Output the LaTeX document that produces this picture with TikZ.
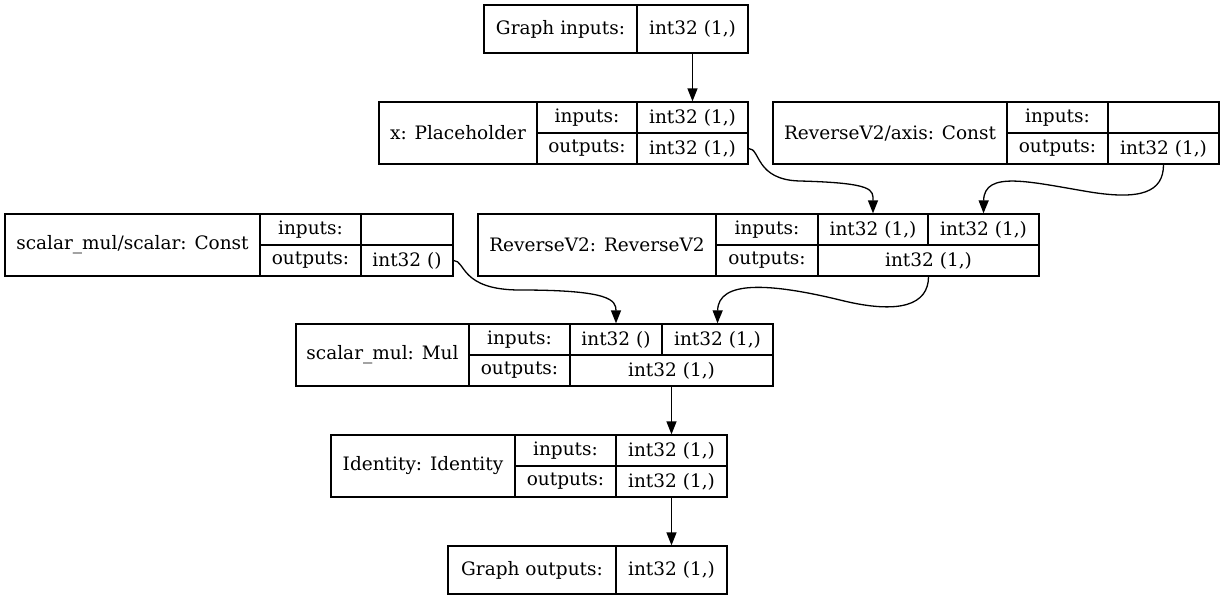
\documentclass[tikz,border=0pt]{standalone}
\usepackage{fontspec}
\setmainfont{DejaVu Serif}
\usetikzlibrary{arrows.meta}

\begin{document}
\begin{tikzpicture}[
  x=1pt, y=-1pt,
  cell/.style={draw, line width=1.3pt, inner sep=0pt, font=\fontsize{18.5}{22}\selectfont, minimum height=31pt},
  tall/.style={cell, minimum height=62pt},
  flat/.style={cell, minimum height=48pt},
  arr/.style={-{Triangle[length=13pt, width=10pt]}, line width=1.3pt}]
\useasboundingbox (0,0) rectangle (1225,600);
\node[flat, minimum width=153pt] (gin) at (560.5,29) {Graph inputs:};
\node[flat, minimum width=111pt] (ginv) at (692.5,29) {int32 (1,)};
\node[tall, minimum width=158pt] (xl) at (458,133) {x: Placeholder};
\node[cell, minimum width=100pt] (xin) at (587,117.5) {inputs:};
\node[cell, minimum width=100pt] (xout) at (587,148.5) {outputs:};
\node[cell, minimum width=111pt] (xinv) at (692.5,117.5) {int32 (1,)};
\node[cell, minimum width=111pt] (xoutv) at (692.5,148.5) {int32 (1,)};
\node[tall, minimum width=234pt] (al) at (890,133) {ReverseV2/axis: Const};
\node[cell, minimum width=101pt] (ain) at (1057.5,117.5) {inputs:};
\node[cell, minimum width=101pt] (aout) at (1057.5,148.5) {outputs:};
\node[cell, minimum width=111pt] (ainv) at (1163.5,117.5) {};
\node[cell, minimum width=111pt] (aoutv) at (1163.5,148.5) {int32 (1,)};
\node[tall, minimum width=255pt] (sl) at (132.5,245) {scalar\_mul/scalar: Const};
\node[cell, minimum width=101pt] (sin) at (310.5,229.5) {inputs:};
\node[cell, minimum width=101pt] (sout) at (310.5,260.5) {outputs:};
\node[cell, minimum width=92pt] (sinv) at (407,229.5) {};
\node[cell, minimum width=92pt] (soutv) at (407,260.5) {int32 ()};
\node[tall, minimum width=238pt] (rl) at (597,245) {ReverseV2: ReverseV2};
\node[cell, minimum width=102pt] (rin) at (767,229.5) {inputs:};
\node[cell, minimum width=102pt] (rout) at (767,260.5) {outputs:};
\node[cell, minimum width=110pt] (rinva) at (873,229.5) {int32 (1,)};
\node[cell, minimum width=111pt] (rinvb) at (983.5,229.5) {int32 (1,)};
\node[cell, minimum width=221pt] (routv) at (928.5,260.5) {int32 (1,)};
\node[tall, minimum width=173pt] (ml) at (382.5,355) {scalar\_mul: Mul};
\node[cell, minimum width=101pt] (min) at (519.5,339.5) {inputs:};
\node[cell, minimum width=101pt] (mout) at (519.5,370.5) {outputs:};
\node[cell, minimum width=92pt] (minva) at (616,339.5) {int32 ()};
\node[cell, minimum width=111pt] (minvb) at (717.5,339.5) {int32 (1,)};
\node[cell, minimum width=203pt] (moutv) at (671.5,370.5) {int32 (1,)};
\node[tall, minimum width=184pt] (il) at (423,466) {Identity: Identity};
\node[cell, minimum width=101pt] (iin) at (565.5,450.5) {inputs:};
\node[cell, minimum width=101pt] (iout) at (565.5,481.5) {outputs:};
\node[cell, minimum width=111pt] (iinv) at (671.5,450.5) {int32 (1,)};
\node[cell, minimum width=111pt] (ioutv) at (671.5,481.5) {int32 (1,)};
\node[flat, minimum width=168pt] (gout) at (532,570) {Graph outputs:};
\node[flat, minimum width=111pt] (goutv) at (671.5,570) {int32 (1,)};
\draw[arr] (ginv.south) -- (xinv.north);
\draw[arr] (xoutv.east) .. controls +(12,0) and (755,180) .. (800,181) .. controls (875,183) and (873,190) .. (rinva.north);
\draw[arr] (aoutv.south) .. controls +(0,28) and (1140,200) .. (1090,192) .. controls (1030,182) and (984,170) .. (rinvb.north);
\draw[arr] (soutv.east) .. controls +(12,0) and (460,290) .. (520,290) .. controls (610,290) and (616,300) .. (minva.north);
\draw[arr] (routv.south) .. controls +(0,28) and (900,315) .. (840,300) .. controls (770,283) and (718,280) .. (minvb.north);
\draw[arr] (moutv.south) -- (iinv.north);
\draw[arr] (ioutv.south) -- (goutv.north);
\end{tikzpicture}
\end{document}
